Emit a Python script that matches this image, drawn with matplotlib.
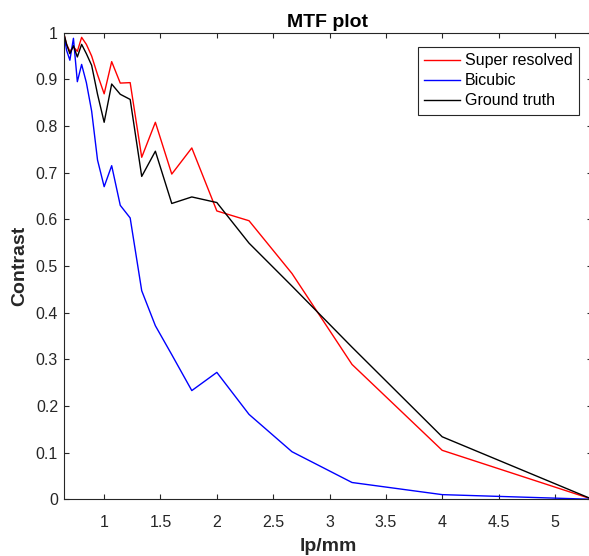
import matplotlib
matplotlib.use("Agg")
import matplotlib.pyplot as plt

plt.rcParams['font.family'] = ['Liberation Sans', 'DejaVu Sans']

# spatial frequency (lp/mm), 16/n for n = 25 ... 3
lp_mm = [0.64, 0.6667, 0.6957, 0.7273, 0.7619, 0.8, 0.8421, 0.8889, 0.9412,
         1.0, 1.0667, 1.1429, 1.2308, 1.3333, 1.4545, 1.6, 1.7778, 2.0,
         2.2857, 2.6667, 3.2, 4.0, 5.3333]

super_resolved = [1.0, 0.975, 0.96, 0.97, 0.96, 0.99, 0.975, 0.95, 0.91,
                  0.869, 0.938, 0.892, 0.893, 0.733, 0.808, 0.697, 0.753, 0.618,
                  0.597, 0.484, 0.289, 0.105, 0.0]
bicubic = [1.0, 0.962, 0.941, 0.988, 0.895, 0.932, 0.893, 0.832, 0.727,
           0.670, 0.715, 0.630, 0.603, 0.447, 0.372, 0.310, 0.233, 0.272,
           0.182, 0.102, 0.036, 0.010, 0.0]
ground_truth = [1.0, 0.975, 0.955, 0.972, 0.948, 0.975, 0.955, 0.93, 0.868,
                0.808, 0.890, 0.868, 0.857, 0.692, 0.746, 0.634, 0.648, 0.636,
                0.549, 0.457, 0.326, 0.134, 0.0]

xticks = [1, 1.5, 2, 2.5, 3, 3.5, 4, 4.5, 5]
yticks = [0, 0.1, 0.2, 0.3, 0.4, 0.5, 0.6, 0.7, 0.8, 0.9, 1]

W, H = 589, 556
fig = plt.figure(figsize=(W / 100, H / 100), dpi=100)
left, right, top, bottom = 63.6, 592.4, 32.7, 499.3
ax = fig.add_axes([left / W, 1 - bottom / H, (right - left) / W, (bottom - top) / H])

ax.plot(lp_mm, super_resolved, color='#FF0000', lw=1.0, label='Super resolved')
ax.plot(lp_mm, bicubic, color='#0000FF', lw=1.0, label='Bicubic')
ax.plot(lp_mm, ground_truth, color='#000000', lw=1.0, label='Ground truth')

ax.set_xlim(lp_mm[0], lp_mm[-1])
ax.set_ylim(0, 1)
ax.set_xticks(xticks)
ax.set_xticklabels([f"{t:g}" for t in xticks])
ax.set_yticks(yticks)
ax.set_yticklabels([f"{t:g}" for t in yticks])

axcol = '#262626'
for s in ax.spines.values():
    s.set_color(axcol)
    s.set_linewidth(0.8)
ax.tick_params(axis='both', direction='in', top=True, right=True, length=3.6,
               width=0.8, color=axcol, labelcolor=axcol, labelsize=11.5)
ax.tick_params(axis='x', pad=11.5)
ax.tick_params(axis='y', pad=4)

ax.set_title('MTF plot', fontsize=14, fontweight='bold', pad=4)
ax.set_xlabel('lp/mm', fontsize=14, fontweight='bold', color=axcol, labelpad=5.5)
ax.set_ylabel('Contrast', fontsize=14, fontweight='bold', color=axcol, labelpad=5)

leg = ax.legend(loc='upper right', bbox_to_anchor=(0.9747, 0.969), borderaxespad=0,
                fontsize=11.5, fancybox=False, framealpha=1, edgecolor=axcol,
                handlelength=2.3, handletextpad=0.3, labelspacing=0.32, borderpad=0.38)
leg.get_frame().set_linewidth(0.8)

fig.savefig('out.png', dpi=100)
